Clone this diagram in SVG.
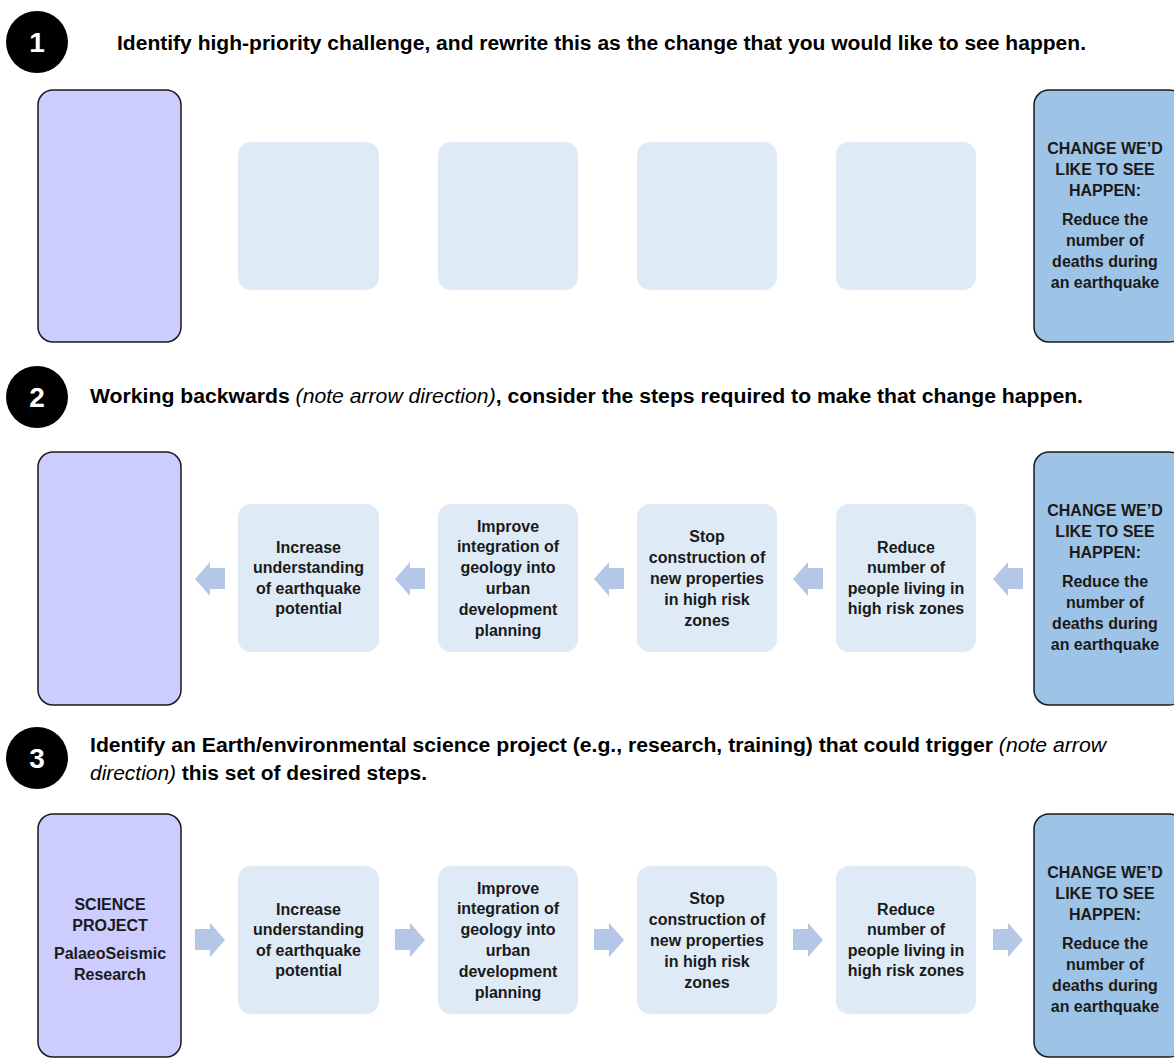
<svg xmlns="http://www.w3.org/2000/svg" xmlns:xlink="http://www.w3.org/1999/xlink" width="1174" height="1061" viewBox="0 0 1174 1061">
<style>
.bg{fill:#ffffff}
.num{fill:#000}
.numt{fill:#fff;font-family:"Liberation Sans",Arial,sans-serif;font-weight:bold;font-size:28px;text-anchor:middle}
.hdr{fill:#000;font-family:"Liberation Sans",Arial,sans-serif;font-weight:bold;font-size:20px}
.it{font-style:italic;font-weight:normal}
.purple{fill:#CCCCFF;stroke:#1a1a1a;stroke-width:1.5}
.blue{fill:#9DC3E6;stroke:#1a1a1a;stroke-width:1.5}
.light{fill:#DEEBF7}
.bt{fill:#1a1a1a;font-family:"Liberation Sans",Arial,sans-serif;font-weight:bold;font-size:16px;text-anchor:middle}
.arr{fill:#B4C7E7}
</style>
<defs>
<path id="arrL" d="M-15,0 L0,-17 L0,-11 L15,-11 L15,10 L0,10 L0,17 Z"/>
<path id="arrR" d="M15,0 L0,-17 L0,-11 L-15,-11 L-15,10 L0,10 L0,17 Z"/>
</defs>
<rect class="bg" width="1174" height="1061"/>

<!-- Section 1 -->
<g id="step1-label">
<circle class="num" cx="37" cy="42" r="31"/>
<text class="numt" x="37" y="52">1</text>
<text class="hdr" x="117" y="50" textLength="969" lengthAdjust="spacingAndGlyphs">Identify high-priority challenge, and rewrite this as the change that you would like to see happen.</text>
</g>
<g id="s1-project"><rect class="purple" x="38" y="90" width="143" height="252" rx="15"/></g>
<g id="s1-box1"><rect class="light" x="238" y="142" width="141" height="148" rx="13"/></g>
<g id="s1-box2"><rect class="light" x="438" y="142" width="140" height="148" rx="13"/></g>
<g id="s1-box3"><rect class="light" x="637" y="142" width="140" height="148" rx="13"/></g>
<g id="s1-box4"><rect class="light" x="836" y="142" width="140" height="148" rx="13"/></g>
<g id="s1-change">
<rect class="blue" x="1034" y="90" width="150" height="252" rx="15"/>
<text class="bt" x="1105" y="154">CHANGE WE’D</text>
<text class="bt" x="1105" y="175">LIKE TO SEE</text>
<text class="bt" x="1105" y="196">HAPPEN:</text>
<text class="bt" x="1105" y="225">Reduce the</text>
<text class="bt" x="1105" y="246">number of</text>
<text class="bt" x="1105" y="267">deaths during</text>
<text class="bt" x="1105" y="288">an earthquake</text>
</g>

<!-- Section 2 -->
<g id="step2-label">
<circle class="num" cx="37" cy="397" r="31"/>
<text class="numt" x="37" y="407">2</text>
<text class="hdr" x="90" y="403" textLength="993" lengthAdjust="spacingAndGlyphs">Working backwards <tspan class="it">(note arrow direction)</tspan>, consider the steps required to make that change happen.</text>
</g>
<g id="s2-project"><rect class="purple" x="38" y="452" width="143" height="253" rx="15"/></g>
<g id="s2-box1">
<rect class="light" x="238" y="504" width="141" height="148" rx="13"/>
<text class="bt" x="308.5" y="552.5">Increase</text>
<text class="bt" x="308.5" y="573">understanding</text>
<text class="bt" x="308.5" y="593.5">of earthquake</text>
<text class="bt" x="308.5" y="614">potential</text>
</g>
<g id="s2-box2">
<rect class="light" x="438" y="504" width="140" height="148" rx="13"/>
<text class="bt" x="508" y="531.5">Improve</text>
<text class="bt" x="508" y="552">integration of</text>
<text class="bt" x="508" y="572.5">geology into</text>
<text class="bt" x="508" y="593.5">urban</text>
<text class="bt" x="508" y="614.5">development</text>
<text class="bt" x="508" y="635.5">planning</text>
</g>
<g id="s2-box3">
<rect class="light" x="637" y="504" width="140" height="148" rx="13"/>
<text class="bt" x="707" y="541.5">Stop</text>
<text class="bt" x="707" y="562.5">construction of</text>
<text class="bt" x="707" y="583.5">new properties</text>
<text class="bt" x="707" y="604.5">in high risk</text>
<text class="bt" x="707" y="625.5">zones</text>
</g>
<g id="s2-box4">
<rect class="light" x="836" y="504" width="140" height="148" rx="13"/>
<text class="bt" x="906" y="552.5">Reduce</text>
<text class="bt" x="906" y="573">number of</text>
<text class="bt" x="906" y="593.5">people living in</text>
<text class="bt" x="906" y="614">high risk zones</text>
</g>
<g id="s2-change">
<rect class="blue" x="1034" y="452" width="150" height="253" rx="15"/>
<text class="bt" x="1105" y="516">CHANGE WE’D</text>
<text class="bt" x="1105" y="537">LIKE TO SEE</text>
<text class="bt" x="1105" y="558">HAPPEN:</text>
<text class="bt" x="1105" y="587">Reduce the</text>
<text class="bt" x="1105" y="608">number of</text>
<text class="bt" x="1105" y="629">deaths during</text>
<text class="bt" x="1105" y="650">an earthquake</text>
</g>

<!-- Section 3 -->
<g id="step3-label">
<circle class="num" cx="37" cy="758" r="31"/>
<text class="numt" x="37" y="768">3</text>
<text class="hdr" x="90" y="752" textLength="1016" lengthAdjust="spacingAndGlyphs">Identify an Earth/environmental science project (e.g., research, training) that could trigger <tspan class="it">(note arrow</tspan></text>
<text class="hdr" x="90" y="780" textLength="337" lengthAdjust="spacingAndGlyphs"><tspan class="it">direction)</tspan> this set of desired steps.</text>
</g>
<g id="s3-project">
<rect class="purple" x="38" y="814" width="143" height="243" rx="15"/>
<text class="bt" x="110" y="909.5">SCIENCE</text>
<text class="bt" x="110" y="930.5">PROJECT</text>
<text class="bt" x="110" y="958.5">PalaeoSeismic</text>
<text class="bt" x="110" y="979.5">Research</text>
</g>
<g id="s3-box1">
<rect class="light" x="238" y="866" width="141" height="148" rx="13"/>
<text class="bt" x="308.5" y="914.5">Increase</text>
<text class="bt" x="308.5" y="935">understanding</text>
<text class="bt" x="308.5" y="955.5">of earthquake</text>
<text class="bt" x="308.5" y="976">potential</text>
</g>
<g id="s3-box2">
<rect class="light" x="438" y="866" width="140" height="148" rx="13"/>
<text class="bt" x="508" y="893.5">Improve</text>
<text class="bt" x="508" y="914">integration of</text>
<text class="bt" x="508" y="934.5">geology into</text>
<text class="bt" x="508" y="955.5">urban</text>
<text class="bt" x="508" y="976.5">development</text>
<text class="bt" x="508" y="997.5">planning</text>
</g>
<g id="s3-box3">
<rect class="light" x="637" y="866" width="140" height="148" rx="13"/>
<text class="bt" x="707" y="903.5">Stop</text>
<text class="bt" x="707" y="924.5">construction of</text>
<text class="bt" x="707" y="945.5">new properties</text>
<text class="bt" x="707" y="966.5">in high risk</text>
<text class="bt" x="707" y="987.5">zones</text>
</g>
<g id="s3-box4">
<rect class="light" x="836" y="866" width="140" height="148" rx="13"/>
<text class="bt" x="906" y="914.5">Reduce</text>
<text class="bt" x="906" y="935">number of</text>
<text class="bt" x="906" y="955.5">people living in</text>
<text class="bt" x="906" y="976">high risk zones</text>
</g>
<g id="s3-change">
<rect class="blue" x="1034" y="814" width="150" height="243" rx="15"/>
<text class="bt" x="1105" y="878">CHANGE WE’D</text>
<text class="bt" x="1105" y="899">LIKE TO SEE</text>
<text class="bt" x="1105" y="920">HAPPEN:</text>
<text class="bt" x="1105" y="949">Reduce the</text>
<text class="bt" x="1105" y="970">number of</text>
<text class="bt" x="1105" y="991">deaths during</text>
<text class="bt" x="1105" y="1012">an earthquake</text>
</g>

<!-- Connectors -->
<g id="connectors" class="arr">
<use href="#arrL" x="210" y="579"/>
<use href="#arrL" x="410" y="579"/>
<use href="#arrL" x="609" y="579"/>
<use href="#arrL" x="808" y="579"/>
<use href="#arrL" x="1008" y="579"/>
<use href="#arrR" x="210" y="940"/>
<use href="#arrR" x="410" y="940"/>
<use href="#arrR" x="609" y="940"/>
<use href="#arrR" x="808" y="940"/>
<use href="#arrR" x="1008" y="940"/>
</g>
</svg>
